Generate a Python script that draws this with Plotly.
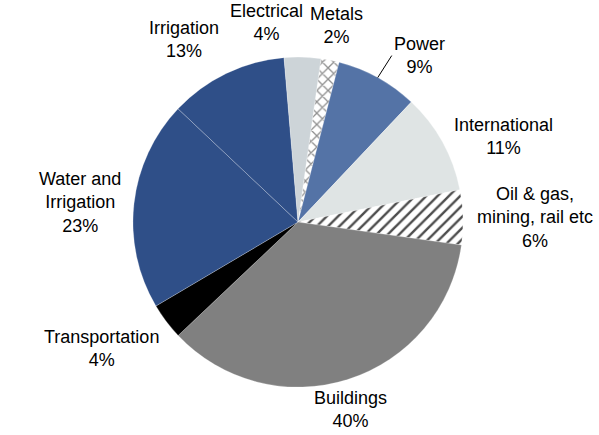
import numpy as np
import plotly.graph_objects as go

# Segment shares (percent), clockwise from the top
segments = ["Metals", "Power", "International", "Oil & gas,<br>mining, rail etc",
            "Buildings", "Transportation", "Water and<br>Irrigation", "Irrigation", "Electrical"]
shares = [2, 9, 11, 6, 40, 4, 23, 13, 4]

fills = ["#ffffff", "#5473a6", "#dfe4e4", "#ffffff", "#808080",
         "#000000", "#2f4f88", "#2f4f88", "#cdd4d8"]
hatch = ["x", "", "", "/", "", "", "", "", ""]
hatch_col = ["#8f8f8f", "#000000", "#000000", "#4d4d4d", "#000000",
             "#000000", "#000000", "#000000", "#000000"]

# Label nudges in pixels (dx, dy) so the two narrow top labels sit side by side
nudge = {"Electrical": (-36, 0), "Metals": (4, 0)}
# Labels drawn with a leader line: text offset in pixels from the slice edge
leader = {"Power": (14, -22)}

ROT = 8  # start angle of the first slice, degrees clockwise from 12 o'clock
W, H = 599, 435
dom_x = [0.222, 0.773]
dom_y = [0.110, 0.869]
FONT = dict(family="Liberation Sans, Arial, sans-serif", size=18, color="#000000")

fig = go.Figure(go.Pie(
    labels=segments,
    values=shares,
    sort=False,
    direction="clockwise",
    rotation=ROT,
    textinfo="none",
    hoverinfo="label+value",
    marker=dict(
        colors=fills,
        line=dict(color="rgba(255,255,255,0.45)", width=0.5),
        pattern=dict(shape=hatch, fgcolor=hatch_col, size=8, solidity=0.3),
    ),
    domain=dict(x=dom_x, y=dom_y),
    showlegend=False,
))

# Place each category label outside its slice, at the slice's mid angle
cx = (dom_x[0] + dom_x[1]) / 2 * W
cy = (1 - (dom_y[0] + dom_y[1]) / 2) * H
R = min((dom_x[1] - dom_x[0]) * W, (dom_y[1] - dom_y[0]) * H) / 2
vals = np.array(shares, dtype=float)
ends = ROT + np.cumsum(vals) / vals.sum() * 360
mids = ends - vals / vals.sum() * 360 / 2

for name, v, a in zip(segments, shares, mids):
    t = np.radians(a)
    s, c = np.sin(t), np.cos(t)
    if name in leader:
        ex, ey = cx + R * s, cy - R * c
        ox, oy = leader[name]
        fig.add_annotation(
            x=ex / W, y=1 - ey / H, xref="paper", yref="paper",
            text=f"{name}<br>{v}%", showarrow=True, arrowhead=0,
            arrowwidth=1, arrowcolor="#000000", ax=ox, ay=oy,
            xanchor="left", yanchor="middle", align="center", font=FONT,
        )
        continue
    k = 1.04 if c < -0.5 else 1.07
    px = cx + R * k * s
    py = cy - R * k * c
    dx, dy = nudge.get(name, (0, 0))
    px += dx
    py += dy
    xa = "left" if s > 0.35 else ("right" if s < -0.35 else "center")
    ya = "bottom" if c > 0.5 else ("top" if c < -0.5 else "middle")
    fig.add_annotation(
        x=px / W, y=1 - py / H, xref="paper", yref="paper",
        text=f"{name}<br>{v}%", showarrow=False,
        xanchor=xa, yanchor=ya, align="center",
        font=FONT,
    )

fig.update_layout(
    width=W, height=H,
    margin=dict(l=0, r=0, t=0, b=0),
    paper_bgcolor="#ffffff",
    plot_bgcolor="#ffffff",
)

fig.write_html("out.html")
